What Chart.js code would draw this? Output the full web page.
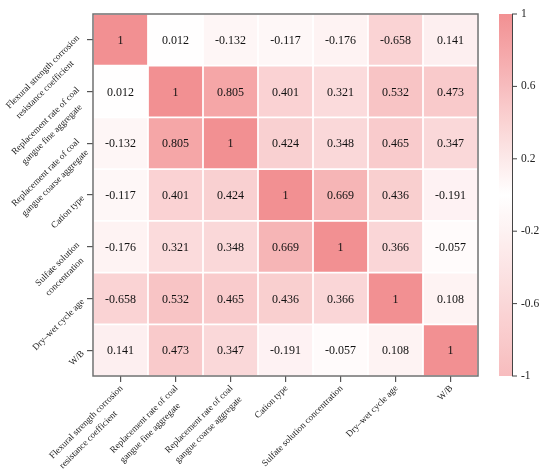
<!DOCTYPE html>
<html>
<head>
<meta charset="utf-8">
<script src="https://cdn.jsdelivr.net/npm/chart.js@4.4.0/dist/chart.umd.min.js"></script>
<style>
  html, body { margin: 0; padding: 0; background: #fff; }
  #wrap { width: 550px; height: 474px; }
</style>
</head>
<body>
<div id="wrap"><canvas id="corrChart" width="550" height="474"></canvas></div>
<script>
  // ---- DATA ----
  const yLabels = [
    ['Flexural strength corrosion', 'resistance coefficient'],
    ['Replacement rate of coal', 'gangue fine aggregate'],
    ['Replacement rate of coal', 'gangue coarse aggregate'],
    ['Cation type'],
    ['Sulfate solution', 'concentration'],
    ['Dry–wet cycle age'],
    ['W/B']
  ];
  const xLabels = [
    ['Flexural strength corrosion', 'resistance coefficient'],
    ['Replacement rate of coal', 'gangue fine aggregate'],
    ['Replacement rate of coal', 'gangue coarse aggregate'],
    ['Cation type'],
    ['Sulfate solution concentration'],
    ['Dry–wet cycle age'],
    ['W/B']
  ];
  const row1 = [1, 0.012, -0.132, -0.117, -0.176, -0.658, 0.141];
  const row2 = [0.012, 1, 0.805, 0.401, 0.321, 0.532, 0.473];
  const row3 = [-0.132, 0.805, 1, 0.424, 0.348, 0.465, 0.347];
  const row4 = [-0.117, 0.401, 0.424, 1, 0.669, 0.436, -0.191];
  const row5 = [-0.176, 0.321, 0.348, 0.669, 1, 0.366, -0.057];
  const row6 = [-0.658, 0.532, 0.465, 0.436, 0.366, 1, 0.108];
  const row7 = [0.141, 0.473, 0.347, -0.191, -0.057, 0.108, 1];
  const rows = [row1, row2, row3, row4, row5, row6, row7];
  const colorbarTicks = [1, 0.6, 0.2, -0.2, -0.6, -1];

  (function() {
    // ---- COLOUR SCALE ----
    const hi = [242, 144, 146];      // value 1
    const negWeight = 0.6;           // -1 only gets this much of the pink
    function cellColor(v) {
      const t = v >= 0 ? v : -v * negWeight;
      const c = hi.map(h => Math.round(255 - (255 - h) * t));
      return `rgb(${c[0]},${c[1]},${c[2]})`;
    }

    const serif = '"Liberation Serif", "Times New Roman", serif';

    // one floating-bar dataset per matrix row
    const datasets = rows.map((row, i) => ({
      label: yLabels[i].join(' '),
      data: row.map(() => [i, i + 1]),
      values: row,
      backgroundColor: row.map(cellColor),
      borderColor: '#ffffff',
      borderWidth: 1.2,
      borderSkipped: false,
      barPercentage: 1,
      categoryPercentage: 1
    }));

    // ---- PLUGINS ----
    const cellText = {
      id: 'cellText',
      afterDatasetsDraw(chart) {
        const ctx = chart.ctx;
        ctx.save();
        ctx.font = '12px ' + serif;
        ctx.fillStyle = '#111';
        ctx.textAlign = 'center';
        ctx.textBaseline = 'middle';
        chart.data.datasets.forEach((ds, i) => {
          chart.getDatasetMeta(i).data.forEach((el, j) => {
            ctx.fillText(String(ds.values[j]), el.x, (el.y + el.base) / 2 + 1);
          });
        });
        ctx.restore();
      }
    };

    function drawBlock(ctx, lines, x, y, lh) {
      // lines left aligned inside the block, block right edge on the anchor
      ctx.save();
      ctx.translate(x, y);
      ctx.rotate(-Math.PI / 4);
      const w = Math.max(...lines.map(l => ctx.measureText(l).width));
      lines.forEach((l, k) => {
        ctx.fillText(l, -w, (k - (lines.length - 1) / 2) * lh);
      });
      ctx.restore();
    }

    const frameAndLabels = {
      id: 'frameAndLabels',
      afterDraw(chart) {
        const ctx = chart.ctx;
        const a = chart.chartArea;
        const xs = chart.scales.x, ys = chart.scales.y;
        const lh = 14;

        // frame
        ctx.save();
        ctx.strokeStyle = '#707070';
        ctx.lineWidth = 1.5;
        ctx.strokeRect(a.left, a.top, a.right - a.left, a.bottom - a.top);

        // axis labels
        ctx.font = '9.2px ' + serif;
        ctx.fillStyle = '#222';
        ctx.textAlign = 'left';
        ctx.textBaseline = 'middle';
        yLabels.forEach((lines, i) => {
          drawBlock(ctx, lines, a.left - 10, ys.getPixelForValue(i + 0.5) + 2, lh);
        });
        xLabels.forEach((lines, j) => {
          const off = (lines.length - 1) / 2 * lh * Math.SQRT1_2;
          drawBlock(ctx, lines, xs.getPixelForValue(j) + 1 + off, a.bottom + 11 + off, lh);
        });

        // colour bar
        const cx = a.right + 21, cw = 13;
        const cb = v => a.top + (1 - v) / 2 * (a.bottom - a.top);
        const g = ctx.createLinearGradient(0, cb(1), 0, cb(-1));
        for (let k = 0; k <= 20; k++) {
          const v = 1 - k / 10;
          g.addColorStop(k / 20, cellColor(v));
        }
        ctx.fillStyle = g;
        ctx.fillRect(cx, cb(1), cw, cb(-1) - cb(1));
        ctx.strokeStyle = '#444';
        ctx.lineWidth = 1;
        ctx.beginPath();
        ctx.moveTo(cx + cw + 0.5, cb(1));
        ctx.lineTo(cx + cw + 0.5, cb(-1));
        colorbarTicks.forEach(v => {
          ctx.moveTo(cx + cw, cb(v));
          ctx.lineTo(cx + cw + 5, cb(v));
        });
        ctx.stroke();
        ctx.font = '11.5px ' + serif;
        ctx.fillStyle = '#222';
        ctx.textAlign = 'left';
        colorbarTicks.forEach(v => {
          ctx.fillText(String(v), cx + cw + 9, cb(v));
        });
        ctx.restore();
      }
    };

    // ---- CHART ----
    const ctx = document.getElementById('corrChart').getContext('2d');
    new Chart(ctx, {
      type: 'bar',
      data: {
        labels: xLabels.map(l => l.join(' ')),
        datasets: datasets
      },
      options: {
        responsive: false,
        animation: false,
        layout: { padding: { left: 87, top: 14, right: 72, bottom: 92 } },
        plugins: { legend: { display: false }, tooltip: { enabled: false } },
        datasets: { bar: { grouped: false } },
        scales: {
          x: {
            offset: true,
            grid: { offset: false, drawOnChartArea: false, tickLength: 6, color: '#555', lineWidth: 1.2 },
            border: { display: false },
            ticks: { display: false }
          },
          y: {
            min: 0, max: 7, reverse: true,
            afterBuildTicks: s => { s.ticks = rows.map((r, i) => ({ value: i + 0.5 })); },
            grid: { drawOnChartArea: false, tickLength: 6, color: '#555', lineWidth: 1.2 },
            border: { display: false },
            ticks: { display: false }
          }
        }
      },
      plugins: [cellText, frameAndLabels]
    });
  })();
</script>
</body>
</html>
